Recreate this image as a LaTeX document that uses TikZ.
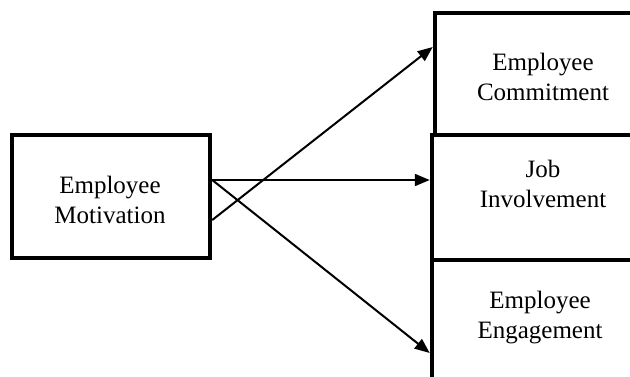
\documentclass[tikz,border=0pt]{standalone}
\usepackage{fontspec}
\setmainfont{Liberation Serif}
\usetikzlibrary{arrows.meta,calc}
\begin{document}
\begin{tikzpicture}[x=1pt,y=-1pt,
  box/.style={draw,line width=4.5pt,minimum width=#1,inner sep=0pt},
  lbl/.style={align=center,font=\fontsize{25}{30}\selectfont,inner sep=0pt},
  arr/.style={line width=2pt,-{Triangle[length=15pt,width=12pt]}}]
\useasboundingbox (0,0) rectangle (630,376);
\clip (0,0) rectangle (630,376);
\fill[white] (0,0) rectangle (630,376);
% boxes
\node[box=198pt,minimum height=123pt] (m) at (111,196.5) {};
\node[box=222pt,minimum height=122pt] (c) at (546,74) {};
\node[box=225pt,minimum height=125pt] (j) at (544.5,197.5) {};
\node[box=225pt,minimum height=135pt] (g) at (544.5,327.5) {};
% labels
\node[lbl] (mt) at (110,200) {Employee\\Motivation};
\node[lbl] (ct) at (543,77) {Employee\\Commitment};
\node[lbl] (jt) at (543,184) {Job\\Involvement};
\node[lbl] (gt) at (540,318) {Employee\\Engagement};
% arrows
\draw[arr] ($(m.east)+(0,23.5)$) -- ($(c.west)+(0,-27)$);
\draw[arr] ($(m.east)+(0,-16.5)$) -- ($(j.west)+(0,-17.5)$);
\draw[arr] ($(m.east)+(0,-16.5)$) -- ($(g.west)+(0,25.5)$);
\end{tikzpicture}
\end{document}
